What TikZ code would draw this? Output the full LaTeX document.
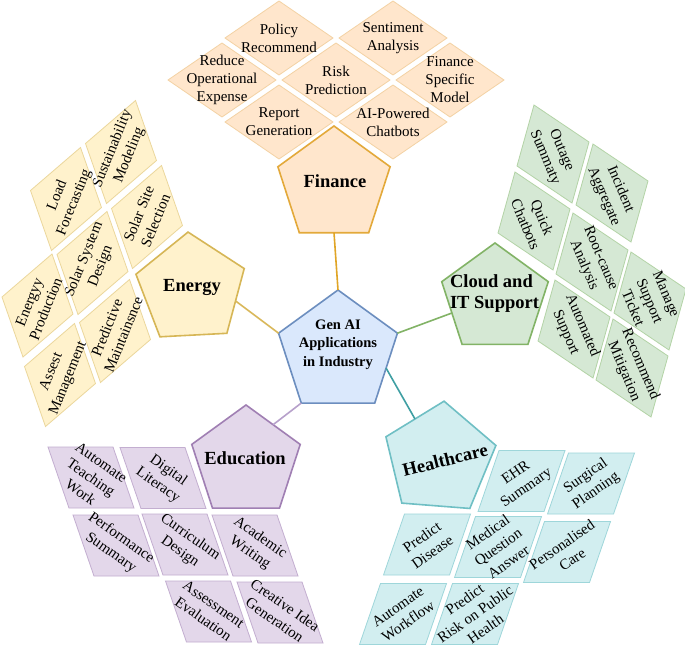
\documentclass[tikz,border=0pt]{standalone}
\usepackage{fontspec}
\setmainfont{Liberation Serif}
\usetikzlibrary{shapes.geometric}
\definecolor{cenF}{HTML}{DAE8FC}\definecolor{cenS}{HTML}{6C8EBF}
\definecolor{finF}{HTML}{FFE6CC}\definecolor{finS}{HTML}{E3A93A}\definecolor{finL}{HTML}{F3D2A4}\definecolor{finC}{HTML}{E0A526}
\definecolor{eneF}{HTML}{FFF2CC}\definecolor{eneS}{HTML}{D6B656}\definecolor{eneL}{HTML}{EBD79C}\definecolor{eneC}{HTML}{D9B85A}
\definecolor{cloF}{HTML}{D5E8D4}\definecolor{cloS}{HTML}{82B366}\definecolor{cloL}{HTML}{B3D3A6}\definecolor{cloC}{HTML}{82B366}
\definecolor{heaF}{HTML}{D2EEF0}\definecolor{heaS}{HTML}{6FBFC4}\definecolor{heaL}{HTML}{9ED6DA}\definecolor{heaC}{HTML}{3F9FA3}
\definecolor{eduF}{HTML}{E3D7EA}\definecolor{eduS}{HTML}{A07FB3}\definecolor{eduL}{HTML}{C3AED0}\definecolor{eduC}{HTML}{B7A1CB}
\tikzset{
  pent/.style={shape=regular polygon, regular polygon sides=5, inner sep=0pt, outer sep=0pt, line width=1.6pt},
  leaf/.style={font=\fontsize{15}{18}\selectfont, align=center, inner sep=0pt},
  biglabel/.style={font=\fontsize{18.5}{21}\selectfont\bfseries, inner sep=0pt},
  conn/.style={line width=1.6pt},
  finbox/.style={fill=finF, draw=finL, line width=0.8pt},
  enebox/.style={fill=eneF, draw=eneL, line width=0.8pt},
  clobox/.style={fill=cloF, draw=cloL, line width=0.8pt},
  heabox/.style={fill=heaF, draw=heaL, line width=0.8pt},
  edubox/.style={fill=eduF, draw=eduL, line width=0.8pt},
}
\newcommand\finleaf[3]{\draw[finbox] (#2) ++(0,-37) -- ++(54,37) -- ++(-54,37) -- ++(-54,-37) -- cycle;
  \node[leaf] (#1) at (#2) {#3};}
\newcommand\eneleaf[3]{\draw[enebox] (#2) ++(14.5,-51.5) -- ++(21,60) -- ++(-50,43) -- ++(-21,-60) -- cycle;
  \node[leaf, rotate=68] (#1) at (#2) {#3};}
\newcommand\cloleaf[3]{\draw[clobox] (#2) ++(-19,-49) -- ++(55,37) -- ++(-17,61) -- ++(-55,-37) -- cycle;
  \node[leaf, rotate=-67] (#1) at (#2) {#3};}
\newcommand\healeaf[3]{\draw[heabox] (#2) ++(-22.5,-30.5) -- ++(66,0) -- ++(-21,61) -- ++(-66,0) -- cycle;
  \node[leaf, rotate=35] (#1) at (#2) {#3};}
\newcommand\eduleaf[3]{\draw[edubox] (#2) ++(-43,-30.5) -- ++(65,0) -- ++(21,61) -- ++(-65,0) -- cycle;
  \node[leaf, rotate=-35] (#1) at (#2) {#3};}
\begin{document}
\begin{tikzpicture}[x=1pt,y=-1pt]
\useasboundingbox[fill=white] (0,0) rectangle (685,646);

% Finance leaves
\finleaf{fpol}{279,38}{Policy\\Recommend}
\finleaf{fsen}{393,38}{Sentiment\\Analysis}
\finleaf{fred}{222,80}{Reduce\\Operational\\Expense}
\finleaf{frisk}{336,80}{Risk\\Prediction}
\finleaf{ffsm}{450,80}{Finance\\Specific\\Model}
\finleaf{frep}{279,122}{Report\\Generation}
\finleaf{fai}{393,122}{AI-Powered\\Chatbots}

% Energy leaves
\eneleaf{esus}{121,152}{Sustainability\\Modeling}
\eneleaf{eload}{66,199}{Load\\Forecasting}
\eneleaf{esite}{147,217}{Solar Site\\Selection}
\eneleaf{esys}{92.5,263}{Solar System\\Design}
\eneleaf{eprod}{37.5,305.5}{Energyy\\Production}
\eneleaf{epred}{115,331}{Predictive\\Maintainsnce}
\eneleaf{eass}{60,375}{Assest\\Management}

% Cloud leaves
\cloleaf{cout}{553,154}{Outage\\Summaty}
\cloleaf{cinc}{612,193}{Incident\\Aggregate}
\cloleaf{cquick}{534,221}{Quick\\Chatbots}
\cloleaf{croot}{592,262}{Root-cause\\Analysis}
\cloleaf{cman}{650,301}{Manage\\Support\\Ticket}
\cloleaf{caut}{574,329}{Automated\\Support}
\cloleaf{crec}{632,368}{Recommend\\Mitigation}

% Healthcare leaves
\healeaf{hehr}{521.5,481}{EHR\\Summary}
\healeaf{hsurg}{591,483.5}{Surgical\\Planning}
\healeaf{hpd}{427,544.5}{Predict\\Disease}
\healeaf{hmed}{498,547}{Medical\\Question\\Answer}
\healeaf{hpers}{567,552}{Personalised\\Care}
\healeaf{hauto}{403,614}{Automate\\Workflow}
\healeaf{hrisk}{475,614}{Predict\\Risk on Public\\Health}

% Education leaves
\eduleaf{edaut}{91,477.5}{Automate\\Teaching\\Work}
\eduleaf{eddig}{163,478}{Digital\\Literacy}
\eduleaf{edperf}{116,545.5}{Performance\\Summary}
\eduleaf{edcur}{185,544.5}{Curriculum\\Design}
\eduleaf{edacad}{255,545.5}{Academic\\Writing}
\eduleaf{edass}{208.5,611.5}{Assessment\\Evaluation}
\eduleaf{edcre}{280,612.5}{Creative Idea\\Generation}

% Pentagons
\node[pent, fill=cenF, draw=cenS, minimum size=125pt] (center) at (338,352.5) {};
\node[pent, fill=finF, draw=finS, minimum size=118pt] (finance) at (334,185) {};
\node[pent, fill=eneF, draw=eneS, minimum size=114pt, shape border rotate=3] (energy) at (191,289) {};
\node[pent, fill=cloF, draw=cloS, minimum size=112pt] (cloud) at (495,299) {};
\node[pent, fill=heaF, draw=heaS, minimum size=116pt, shape border rotate=-4.5] (health) at (439.5,459) {};
\node[pent, fill=eduF, draw=eduS, minimum size=114pt] (edu) at (246,462) {};

% Connectors
\draw[conn, finC] (finance.side 3) -- (center.corner 1);
\draw[conn, eneC] (energy.side 4) -- (center.corner 2);
\draw[conn, cloC] (center.corner 5) -- (cloud.side 2);
\draw[conn, heaC] (center.side 4) -- (health.side 1);
\draw[conn, eduC] (center.corner 3) -- (edu.side 5);

% Labels
\node[font=\fontsize{14.5}{18.5}\selectfont\bfseries, align=center, inner sep=0pt] (centerlabel) at (338,344.5) {Gen AI\\Applications\\in Industry};
\node[biglabel] (financelabel) at (335,181) {Finance};
\node[biglabel] (energylabel) at (192,287) {Energy};
\node[biglabel, align=left] (cloudlabel) at (494.5,293.5) {Cloud and\\IT Support};
\node[biglabel, rotate=14] (healthlabel) at (445,460) {Healthcare};
\node[biglabel] (edulabel) at (245,458) {Education};
\end{tikzpicture}
\end{document}
